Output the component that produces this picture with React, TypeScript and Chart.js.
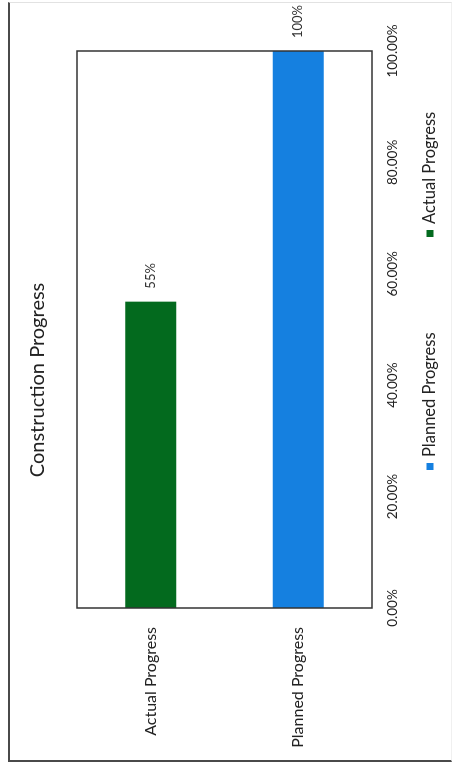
import React, { useEffect, useRef } from "react";
import { Chart, registerables } from "chart.js";

Chart.register(...registerables);

// Chart content
const chartTitle = "Construction Progress";
const categories = ["Actual Progress", "Planned Progress"];
const seriesNames = ["Planned Progress", "Actual Progress"];
const plannedValues: (number | null)[] = [null, 1.0];
const actualValues: (number | null)[] = [0.55, null];
const xTickValues = [0, 0.2, 0.4, 0.6, 0.8, 1.0];
const seriesColors = ["#1580E0", "#036A1E"];

const FONT = "Lato, 'Noto Sans', sans-serif";
const TEXT = "#222222";

// Unrotated canvas size; the sheet is shown turned a quarter turn counter-clockwise.
const W = 772;
const H = 457;

const titlePlugin = {
  id: "sheetTitle",
  afterDraw(chart: any) {
    const { ctx, chartArea } = chart;
    ctx.save();
    ctx.font = `20px ${FONT}`;
    ctx.fillStyle = TEXT;
    ctx.textAlign = "center";
    ctx.textBaseline = "middle";
    ctx.fillText(chartTitle, chartArea.left + 228, chartArea.top - 39);
    ctx.restore();
  },
};

const framePlugin = {
  id: "plotFrame",
  afterDatasetsDraw(chart: any) {
    const { ctx, chartArea } = chart;
    ctx.save();
    ctx.strokeStyle = "#333333";
    ctx.lineWidth = 1.5;
    ctx.strokeRect(chartArea.left, chartArea.top, chartArea.right - chartArea.left, chartArea.bottom - chartArea.top);
    ctx.restore();
  },
};

const valueLabelPlugin = {
  id: "valueLabels",
  afterDatasetsDraw(chart: any) {
    const { ctx } = chart;
    ctx.save();
    ctx.font = `13px ${FONT}`;
    ctx.fillStyle = "#333333";
    ctx.textAlign = "left";
    ctx.textBaseline = "middle";
    chart.data.datasets.forEach((ds: any, di: number) => {
      const meta = chart.getDatasetMeta(di);
      meta.data.forEach((el: any, i: number) => {
        const v = ds.data[i];
        if (v === null || v === undefined) return;
        ctx.fillText(`${Math.round(v * 100)}%`, el.x + 13, el.y);
      });
    });
    ctx.restore();
  },
};

const legendPlugin = {
  id: "sheetLegend",
  afterDraw(chart: any) {
    const { ctx, chartArea } = chart;
    const cy = chartArea.bottom + 58;
    const start = chartArea.left + 138;
    const slot = 233;
    ctx.save();
    ctx.font = `16.5px ${FONT}`;
    ctx.textAlign = "left";
    ctx.textBaseline = "middle";
    chart.data.datasets.forEach((ds: any, i: number) => {
      const x0 = start + i * slot;
      ctx.fillStyle = ds.backgroundColor;
      ctx.fillRect(x0, cy - 3.5, 7, 7);
      ctx.fillStyle = TEXT;
      ctx.fillText(ds.label, x0 + 13, cy);
    });
    ctx.restore();
  },
};

export default function App() {
  const canvasRef = useRef<HTMLCanvasElement | null>(null);

  useEffect(() => {
    if (!canvasRef.current) return;
    const chart = new Chart(canvasRef.current, {
      type: "bar",
      data: {
        labels: categories,
        datasets: [
          {
            label: seriesNames[0],
            data: plannedValues,
            backgroundColor: seriesColors[0],
            grouped: false,
            categoryPercentage: 1,
            barPercentage: 0.346,
          },
          {
            label: seriesNames[1],
            data: actualValues,
            backgroundColor: seriesColors[1],
            grouped: false,
            categoryPercentage: 1,
            barPercentage: 0.346,
          },
        ] as any,
      },
      options: {
        indexAxis: "y",
        animation: false,
        responsive: false,
        devicePixelRatio: 1,
        layout: { padding: { left: 12, right: 51, top: 77, bottom: 0 } },
        plugins: {
          legend: { display: false },
          tooltip: { enabled: false },
          title: { display: false },
        },
        scales: {
          x: {
            type: "linear",
            min: 0,
            max: 1,
            grid: { display: false, drawTicks: false },
            border: { display: false },
            afterBuildTicks: (s: any) => {
              s.ticks = xTickValues.map((v) => ({ value: v }));
            },
            afterFit: (s: any) => {
              s.height = 85;
            },
            ticks: {
              padding: 13,
              color: TEXT,
              font: { family: FONT, size: 13.5 },
              callback: (v: any) => `${(Number(v) * 100).toFixed(2)}%`,
            },
          },
          y: {
            type: "category",
            grid: { display: false, drawTicks: false },
            border: { display: false },
            afterFit: (s: any) => {
              s.width = 152;
            },
            ticks: {
              padding: 19,
              color: TEXT,
              font: { family: FONT, size: 16 },
            },
          },
        },
      },
      plugins: [framePlugin, valueLabelPlugin, legendPlugin, titlePlugin],
    });
    return () => chart.destroy();
  }, []);

  return (
    <div
      style={{
        position: "fixed",
        left: 0,
        top: 0,
        width: H,
        height: W,
        overflow: "hidden",
        background: "#ffffff",
      }}
    >
      <div
        style={{
          position: "absolute",
          left: 0,
          top: 0,
          width: W,
          height: H,
          transformOrigin: "0 0",
          transform: `translate(0px, ${W}px) rotate(-90deg)`,
        }}
      >
        <div
          style={{
            position: "absolute",
            left: 10,
            top: 8,
            width: 760,
            height: 444,
            boxSizing: "border-box",
            borderTop: "2px solid #4a4a4a",
            borderLeft: "2px solid #4a4a4a",
            borderRight: "1px solid #e2e2e2",
            borderBottom: "1px solid #f0f0f0",
          }}
        />
        <canvas
          ref={canvasRef}
          width={W}
          height={H}
          style={{ position: "absolute", left: 0, top: 0, width: W, height: H }}
        />
      </div>
    </div>
  );
}
